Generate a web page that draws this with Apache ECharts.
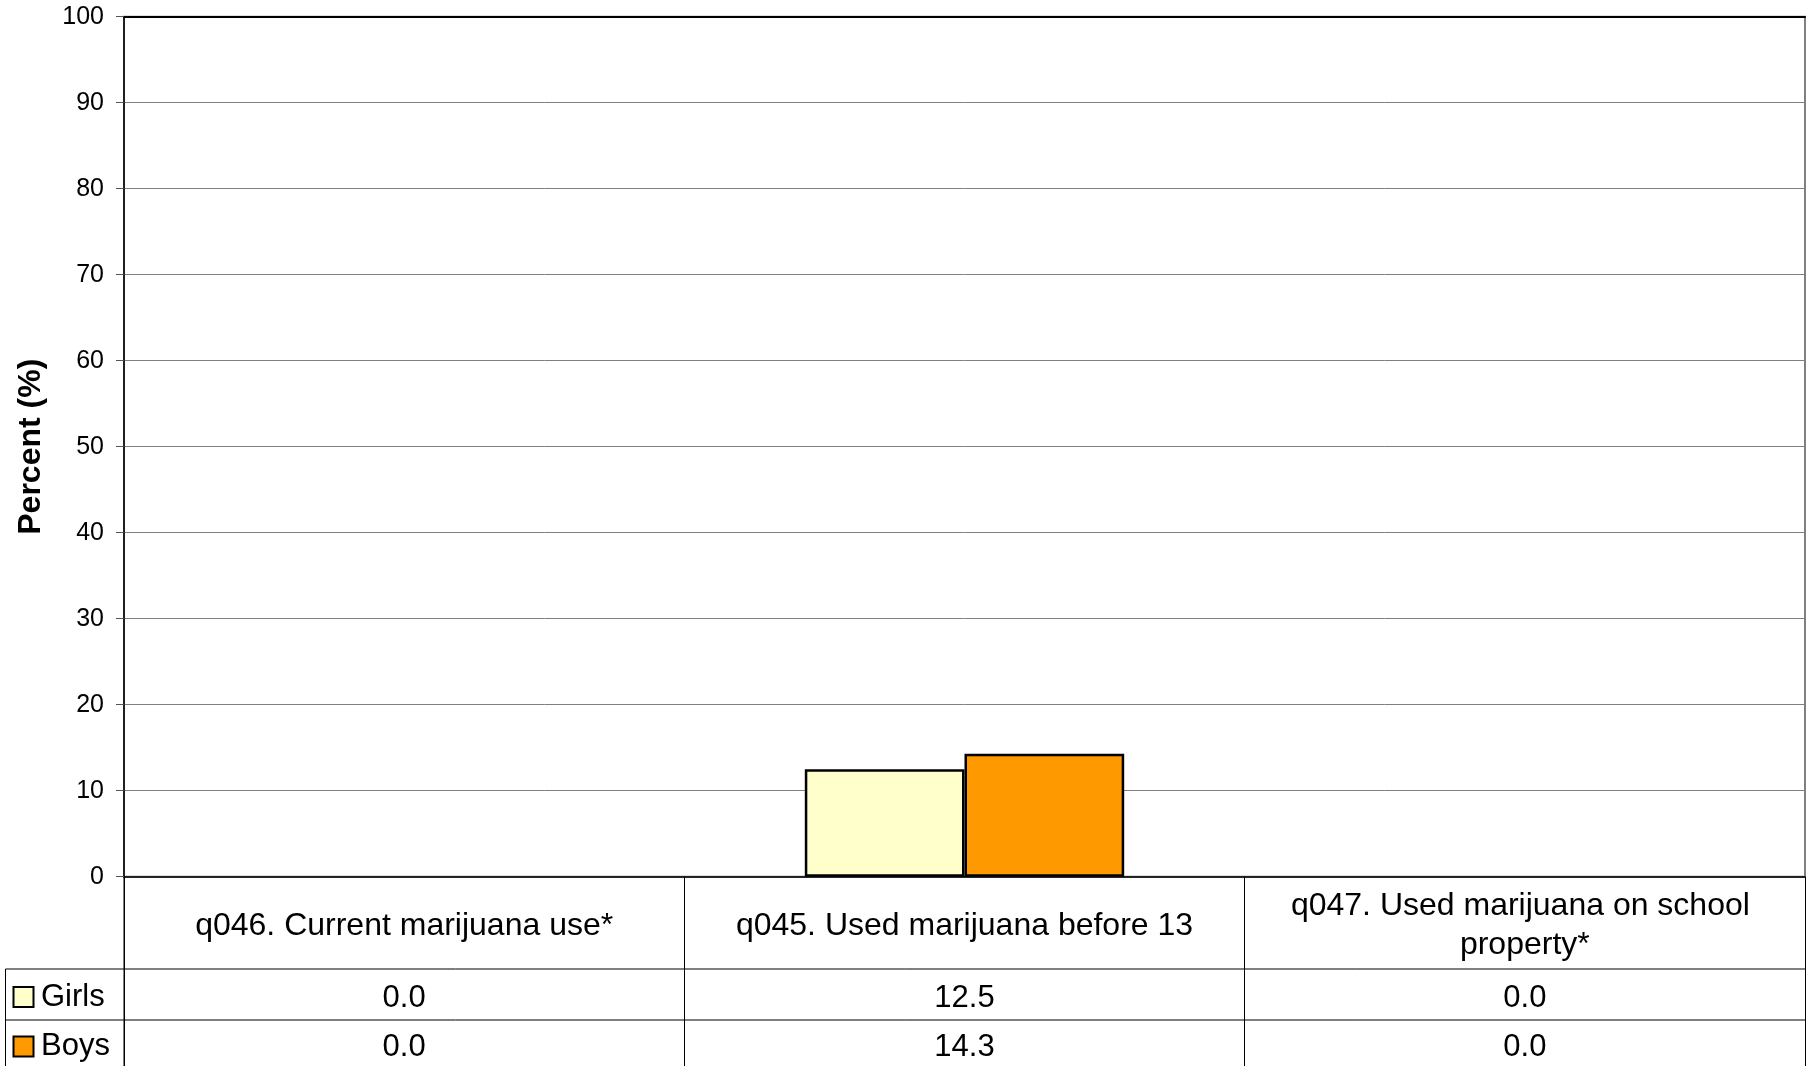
<!DOCTYPE html>
<html><head><meta charset="utf-8">
<script src="https://cdn.jsdelivr.net/npm/echarts@6/dist/echarts.min.js"></script>
<style>html,body{margin:0;padding:0;background:#fff}#c{width:1813px;height:1066px}</style>
</head><body><div id="c"></div>
<script>
const categories = ['q046. Current marijuana use*', 'q045. Used marijuana before 13', 'q047. Used marijuana on school property*'];
const girls = [0.0, 12.5, 0.0];
const boys = [0.0, 14.3, 0.0];
const seriesNames = ['Girls', 'Boys'];
const seriesColors = ['#FFFFCC', '#FF9900'];
const yMin = 0, yMax = 100, yStep = 10;

const FONT = '"Liberation Sans", Arial, sans-serif';
const L = 124, R = 8, TOP = 16.7, PLOT_H = 860;
const ZERO = TOP + PLOT_H;
const ROW1 = 969, ROW2 = 1020, BOTTOM = 1066;
const chart = echarts.init(document.getElementById('c'), null, {renderer: 'canvas'});
const fmt = v => v.toFixed(1);
const hiddenY = i => ({type: 'value', gridIndex: i, show: false, min: 0, max: 1});
const valueAxis = (i, data) => ({
  type: 'category', gridIndex: i, data: data.map(fmt), position: 'bottom',
  axisLine: {show: false}, axisTick: {show: false}, splitLine: {show: false},
  axisLabel: {margin: 0, verticalAlign: 'middle', fontSize: 31, color: '#000', fontFamily: FONT, interval: 0}
});
const barData = (arr) => arr.map(v => ({value: v, itemStyle: {borderWidth: v === 0 ? 0 : 2.5}}));
const option = {
  animation: false,
  backgroundColor: '#fff',
  textStyle: {fontFamily: FONT},
  grid: [
    {left: L, right: R, top: TOP, height: PLOT_H, show: true, borderColor: '#808080', borderWidth: 2},
    {left: L, right: R, top: ZERO, height: BOTTOM - ZERO},
    {left: L, right: R, top: (ROW1 + ROW2) / 2 + 3, height: 1},
    {left: L, right: R, top: (ROW2 + BOTTOM) / 2 + 3, height: 1}
  ],
  legend: {
    orient: 'vertical', left: 12.5, top: 981.5, padding: 0, itemGap: 18.5,
    itemWidth: 20, itemHeight: 20, icon: 'rect',
    data: seriesNames,
    textStyle: {fontSize: 31, color: '#000', fontFamily: FONT, lineHeight: 31, padding: [0, 0, 0, 2.5]},
    itemStyle: {borderColor: '#000', borderWidth: 2}
  },
  xAxis: [
    {type: 'category', gridIndex: 0, data: categories,
     axisLine: {show: true, lineStyle: {color: '#000', width: 1.5}}, axisTick: {show: false},
     axisLabel: {interval: 0, margin: 49, verticalAlign: 'middle', fontSize: 32, lineHeight: 39, color: '#000',
                 fontFamily: FONT, width: 520, overflow: 'break', align: 'center'}},
    {type: 'category', gridIndex: 1, data: categories,
     axisLine: {show: false}, axisTick: {show: false}, axisLabel: {show: false},
     splitLine: {show: true, interval: 0, lineStyle: {color: '#000', width: 1}}},
    valueAxis(2, girls),
    valueAxis(3, boys),
    {type: 'category', gridIndex: 0, data: categories, position: 'top',
     axisLine: {show: true, lineStyle: {color: '#000', width: 2}}, axisTick: {show: false}, axisLabel: {show: false}}
  ],
  yAxis: [
    {type: 'value', gridIndex: 0, min: yMin, max: yMax, interval: yStep,
     axisLine: {show: true, lineStyle: {color: '#000', width: 1.5}},
     axisTick: {show: true, length: 8, lineStyle: {color: '#555'}},
     splitLine: {show: true, lineStyle: {color: '#808080', width: 1}},
     axisLabel: {fontSize: 25, color: '#000', margin: 20, fontFamily: FONT},
     name: 'Percent (%)', nameLocation: 'middle', nameGap: 77, nameRotate: 90,
     nameTextStyle: {fontSize: 32, fontWeight: 'bold', color: '#000', fontFamily: FONT}},
    hiddenY(1), hiddenY(2), hiddenY(3)
  ],
  series: [
    {name: seriesNames[0], type: 'bar', xAxisIndex: 0, yAxisIndex: 0, data: barData(girls),
     barGap: '0%', barCategoryGap: '43%',
     itemStyle: {color: seriesColors[0], borderColor: '#000', borderWidth: 2.5}},
    {name: seriesNames[1], type: 'bar', xAxisIndex: 0, yAxisIndex: 0, data: barData(boys),
     barGap: '0%', barCategoryGap: '43%',
     itemStyle: {color: seriesColors[1], borderColor: '#000', borderWidth: 2.5}}
  ],
  graphic: [
    {type: 'line', shape: {x1: 5.5, y1: ROW1, x2: 1813 - R, y2: ROW1}, style: {stroke: '#000', lineWidth: 1}, silent: true},
    {type: 'line', shape: {x1: 5.5, y1: ROW2, x2: 1813 - R, y2: ROW2}, style: {stroke: '#000', lineWidth: 1}, silent: true},
    {type: 'line', shape: {x1: 5.5, y1: ROW1, x2: 5.5, y2: BOTTOM}, style: {stroke: '#000', lineWidth: 1}, silent: true},
    {type: 'line', shape: {x1: L, y1: ZERO, x2: L, y2: BOTTOM}, style: {stroke: '#000', lineWidth: 1}, silent: true}
  ]
};
chart.setOption(option);
</script>
</body></html>
